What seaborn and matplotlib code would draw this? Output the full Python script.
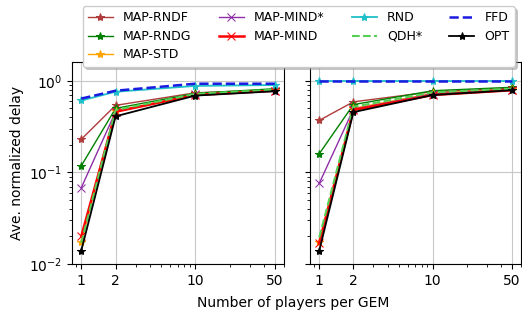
import matplotlib
matplotlib.use("Agg")
import matplotlib.pyplot as plt
import seaborn as sns
import pandas as pd
from matplotlib.ticker import FixedLocator, FixedFormatter

players = [1, 2, 10, 50]
series_names = ["MAP-RNDF", "MAP-RNDG", "MAP-STD", "MAP-MIND*", "MAP-MIND",
                "RND", "QDH*", "FFD", "OPT"]

left_vals = {
    "MAP-RNDF": [0.23, 0.54, 0.74, 0.80],
    "MAP-RNDG": [0.118, 0.50, 0.73, 0.82],
    "MAP-STD": [0.0175, 0.47, 0.70, 0.79],
    "MAP-MIND*": [0.068, 0.46, 0.71, 0.78],
    "MAP-MIND": [0.020, 0.46, 0.70, 0.78],
    "RND": [0.61, 0.76, 0.88, 0.90],
    "QDH*": [0.017, 0.48, 0.72, 0.80],
    "FFD": [0.64, 0.78, 0.93, 0.93],
    "OPT": [0.014, 0.41, 0.69, 0.77],
}
right_vals = {
    "MAP-RNDF": [0.37, 0.59, 0.76, 0.83],
    "MAP-RNDG": [0.16, 0.55, 0.78, 0.85],
    "MAP-STD": [0.0175, 0.50, 0.73, 0.81],
    "MAP-MIND*": [0.076, 0.49, 0.72, 0.80],
    "MAP-MIND": [0.017, 0.48, 0.70, 0.79],
    "RND": [0.99, 0.99, 0.99, 0.99],
    "QDH*": [0.0195, 0.52, 0.75, 0.82],
    "FFD": [1.0, 1.0, 1.0, 1.0],
    "OPT": [0.014, 0.455, 0.70, 0.79],
}
tick_labels = ["1", "2", "10", "50"]

styles = {
    "MAP-RNDF": dict(color="#b03c3c", marker="*", linestyle="-", lw=1.0, ms=6),
    "MAP-RNDG": dict(color="green", marker="*", linestyle="-", lw=1.0, ms=6),
    "MAP-STD": dict(color="orange", marker="*", linestyle="-", lw=1.0, ms=6),
    "MAP-MIND*": dict(color="#8e2ea8", marker="x", linestyle="-", lw=1.0, ms=6),
    "MAP-MIND": dict(color="red", marker="x", linestyle="-", lw=1.8, ms=6),
    "RND": dict(color="#20c0c8", marker="*", linestyle="-", lw=1.3, ms=6),
    "QDH*": dict(color="#55d055", marker=None, linestyle="--", lw=1.5, ms=6),
    "FFD": dict(color="#1a1ae0", marker=None, linestyle="--", lw=1.8, ms=6),
    "OPT": dict(color="black", marker="*", linestyle="-", lw=1.3, ms=6),
}

fig = plt.figure(figsize=(5.22, 3.17), dpi=100)
ax1 = fig.add_axes([0.138, 0.167, 0.406, 0.637])
ax2 = fig.add_axes([0.594, 0.167, 0.404, 0.637], sharey=ax1)

for ax, vals in [(ax1, left_vals), (ax2, right_vals)]:
    for name in series_names:
        df = pd.DataFrame({"players": players, "delay": vals[name]})
        st = styles[name]
        kw = dict(color=st["color"], linestyle=st["linestyle"], lw=st["lw"])
        if st["marker"] is not None:
            kw.update(marker=st["marker"], markersize=st["ms"],
                      markeredgecolor=st["color"], markerfacecolor=st["color"])
        sns.lineplot(data=df, x="players", y="delay", ax=ax, label=name, **kw)
    ax.set_xscale("log")
    ax.set_yscale("log")
    ax.set_xlim(0.83, 60)
    ax.set_ylim(0.01, 1.6)
    ax.xaxis.set_major_locator(FixedLocator(players))
    ax.xaxis.set_major_formatter(FixedFormatter(tick_labels))
    ax.grid(True, which="major", color="#c8c8c8", lw=0.8)
    ax.tick_params(labelsize=10)
    ax.set_xlabel("")
    ax.set_ylabel("")
    if ax.get_legend() is not None:
        ax.get_legend().remove()

ax1.set_ylabel("Ave. normalized delay", fontsize=10)
ax2.tick_params(axis="y", which="both", labelleft=False)

handles, labels = ax1.get_legend_handles_labels()
fig.legend(handles, labels, loc="upper center", bbox_to_anchor=(0.572, 1.0),
           ncol=4, fontsize=9, shadow={"color": "0.6", "alpha": 0.5},
           framealpha=1.0, handlelength=2.0, columnspacing=2.2,
           labelspacing=0.45)

fig.text(0.561, 0.044, "Number of players per GEM", ha="center", va="center",
         fontsize=10)

fig.savefig("out.png", dpi=100)
